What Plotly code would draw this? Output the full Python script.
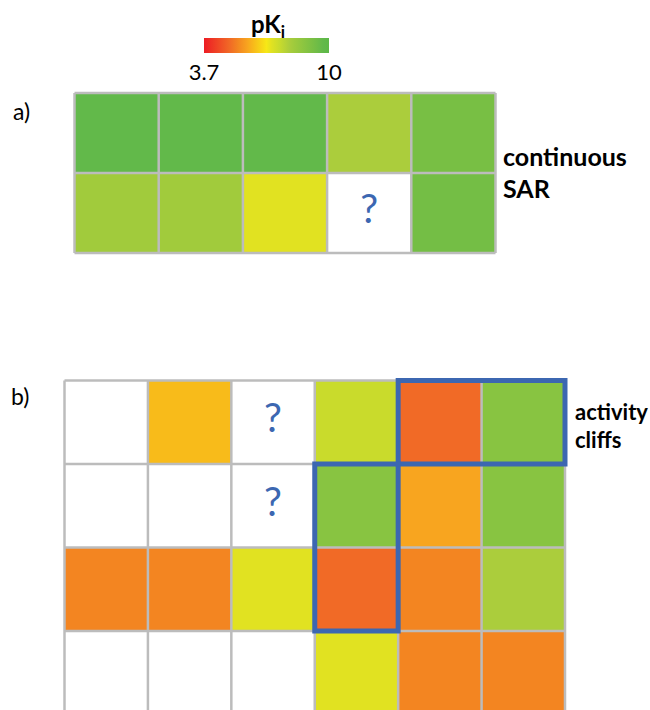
import plotly.graph_objects as go

# pKi values per cell (None = compound not available / not measured)
sar_a = [
    [9.7, 9.7, 9.7, 8.0, 9.2],
    [8.2, 8.2, 7.1, None, 9.3],
]
sar_b = [
    [None, 6.2, None, 7.5, 5.0, 8.8],
    [None, None, None, 8.8, 5.9, 8.8],
    [5.4, 5.4, 7.1, 5.0, 5.4, 8.0],
    [None, None, None, 7.1, 5.4, 5.4],
]
# cells with unknown activity (row, col)
unknown_a = [(1, 3)]
unknown_b = [(0, 2), (1, 2)]
# activity cliff outlines: (row0, row1, col0, col1) inclusive
cliffs_b = [(0, 0, 4, 5), (1, 2, 3, 3)]

pki_min, pki_max = 3.7, 10.0
color_stops = [
    (3.7, "#ed1c24"), (5.0, "#f16a26"), (5.4, "#f38521"), (5.9, "#f8a51f"),
    (6.2, "#f8bb1a"), (6.85, "#f7e816"), (7.1, "#e1e221"), (7.5, "#c9db2c"),
    (8.0, "#abcd3c"), (8.2, "#a1cb3c"), (8.8, "#88c441"), (9.2, "#78bf44"),
    (9.7, "#62b94a"), (10.0, "#5cb847"),
]
colorscale = [[(v - pki_min) / (pki_max - pki_min), c] for v, c in color_stops]

W, H = 650, 710
GRID = "#bcbcbc"
BLUE = "#3c67b1"
PAD = 4


def frame(left, right, top, bottom, ncols, row_h):
    """Axis domains/ranges so that cells land on the given pixel box."""
    cw = (right - left) / ncols
    xdom = [(left - PAD) / W, (right + PAD) / W]
    xr = [-0.5 - PAD / cw, ncols - 0.5 + PAD / cw]
    ydom = [max(0, 1 - (bottom + PAD) / H), 1 - (top - PAD) / H]
    yr = [-0.5 + (min(bottom + PAD, H) - top) / row_h, -0.5 - PAD / row_h]
    return xdom, xr, ydom, yr


fig = go.Figure()

panels = [
    dict(z=sar_a, xa="x", ya="y", box=(74.5, 495.5, 93, 253, 80.0), unk=unknown_a,
         open_bottom=False),
    dict(z=sar_b, xa="x2", ya="y2", box=(64.5, 565, 380.5, 760, 83.5), unk=unknown_b,
         open_bottom=True),
]

layout_axes = {}
for i, p in enumerate(panels):
    z = p["z"]
    nrows, ncols = len(z), len(z[0])
    left, right, top, bottom, rh = p["box"]
    xdom, xr, ydom, yr = frame(left, right, top, bottom, ncols, rh)
    sfx = "" if i == 0 else str(i + 1)
    layout_axes["xaxis" + sfx] = dict(domain=xdom, range=xr, visible=False, fixedrange=True,
                                      anchor="y" + sfx)
    layout_axes["yaxis" + sfx] = dict(domain=ydom, range=yr, visible=False, fixedrange=True,
                                      anchor="x" + sfx)

    fig.add_trace(go.Heatmap(
        z=z, x=list(range(ncols)), y=list(range(nrows)),
        coloraxis="coloraxis", xaxis=p["xa"], yaxis=p["ya"],
        hoverongaps=False,
    ))
    # "?" markers
    fig.add_trace(go.Scatter(
        x=[c for r, c in p["unk"]], y=[r for r, c in p["unk"]],
        mode="text", text=["?"] * len(p["unk"]),
        textfont=dict(family="Lato", size=40, color=BLUE),
        xaxis=p["xa"], yaxis=p["ya"], showlegend=False, hoverinfo="skip",
    ))
    # cell grid
    v_end = nrows + 1 if p["open_bottom"] else nrows - 0.5
    for k in range(ncols + 1):
        fig.add_shape(type="line", xref=p["xa"], yref=p["ya"],
                      x0=k - 0.5, x1=k - 0.5, y0=-0.5, y1=v_end,
                      line=dict(color=GRID, width=2.5))
    for k in range(nrows + 1):
        fig.add_shape(type="line", xref=p["xa"], yref=p["ya"],
                      x0=-0.5, x1=ncols - 0.5, y0=k - 0.5, y1=k - 0.5,
                      line=dict(color=GRID, width=2.5))

# activity cliff outlines
for r0, r1, c0, c1 in cliffs_b:
    fig.add_shape(type="rect", xref="x2", yref="y2",
                  x0=c0 - 0.5, x1=c1 + 0.5, y0=r0 - 0.5, y1=r1 + 0.5,
                  line=dict(color=BLUE, width=5))

bar_left, bar_right = 204, 329
fig.update_layout(
    width=W, height=H,
    margin=dict(l=0, r=0, t=0, b=0),
    paper_bgcolor="white", plot_bgcolor="white",
    showlegend=False,
    font=dict(family="Lato", color="black", size=20),
    coloraxis=dict(
        colorscale=colorscale, cmin=pki_min, cmax=pki_max,
        colorbar=dict(
            orientation="h", lenmode="pixels", len=bar_right - bar_left,
            thickness=15, thicknessmode="pixels",
            x=(bar_left + bar_right) / 2 / W, xanchor="center",
            y=1 - 38 / H, yanchor="top",
            xpad=0, ypad=0, outlinewidth=0,
            tickvals=[pki_min, pki_max], ticktext=["3.7", "10"],
            ticks="", ticklen=0,
            tickfont=dict(family="Lato", size=22, color="black"),
        ),
    ),
    **layout_axes,
)

annotations = [
    dict(text="<b>pK<sub>i</sub></b>", x=268, y=26, size=24),
    dict(text="a)", x=21, y=111, size=23),
    dict(text="b)", x=20, y=396, size=23),
    dict(text="<b>continuous</b>", x=501, y=156, size=25, anchor="left"),
    dict(text="<b>SAR</b>", x=501, y=188, size=25, anchor="left"),
    dict(text="<b>activity</b>", x=573, y=411, size=22, anchor="left"),
    dict(text="<b>cliffs</b>", x=573, y=440, size=22, anchor="left"),
]
for a in annotations:
    fig.add_annotation(
        text=a["text"], x=a["x"] / W, y=1 - a["y"] / H, xref="paper", yref="paper",
        xanchor=a.get("anchor", "center"), yanchor="middle", showarrow=False,
        font=dict(family="Lato", size=a["size"], color="black"),
    )

fig.write_html("out.html")
